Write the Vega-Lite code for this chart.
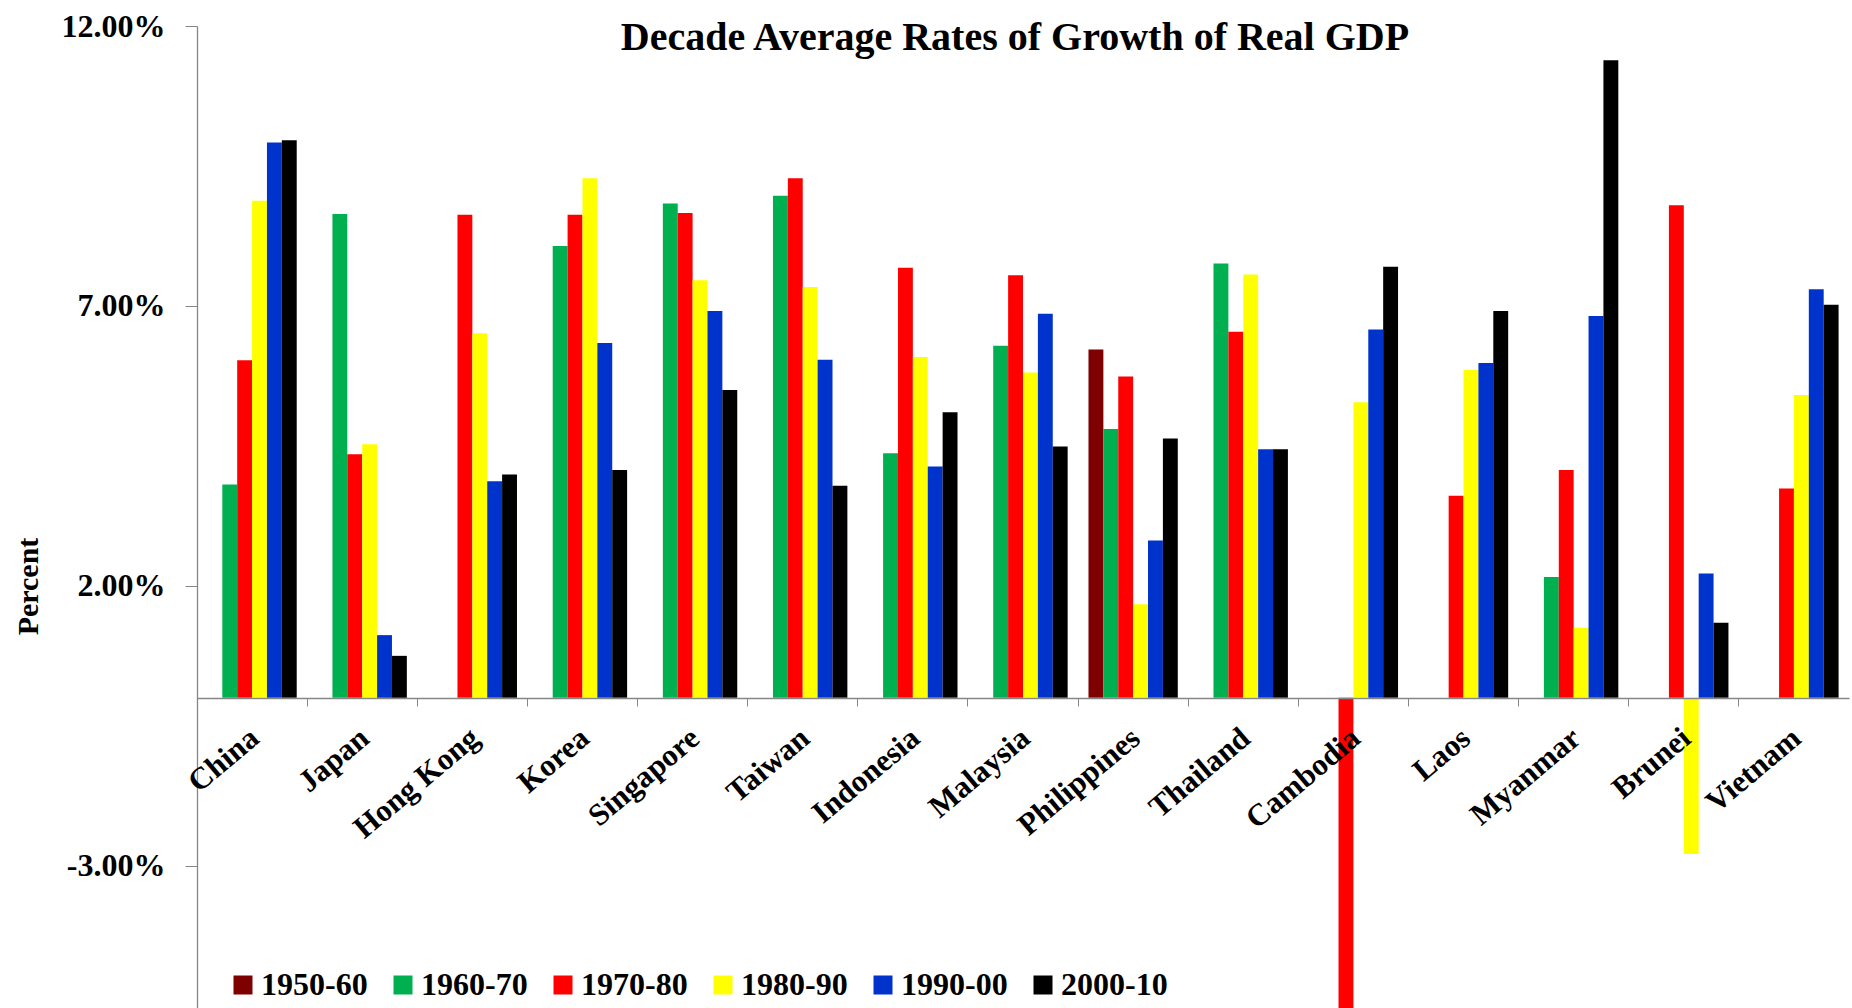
{
  "$schema": "https://vega.github.io/schema/vega-lite/v6.json",
  "autosize": {"type": "none"},
  "padding": {"left": 197, "top": 26, "right": 3, "bottom": 0},
  "width": 1652,
  "height": 982,
  "background": "white",
  "title": {
    "text": "Decade Average Rates of Growth of Real GDP",
    "font": "Liberation Serif",
    "fontSize": 40,
    "fontWeight": "bold",
    "color": "black",
    "anchor": "middle",
    "baseline": "alphabetic",
    "offset": -80,
    "dx": -8
  },
  "data": {
    "values": [
      {"c": "China", "d": "1960-70", "v": 3.81},
      {"c": "China", "d": "1970-80", "v": 6.03},
      {"c": "China", "d": "1980-90", "v": 8.88},
      {"c": "China", "d": "1990-00", "v": 9.92},
      {"c": "China", "d": "2000-10", "v": 9.96},
      {"c": "Japan", "d": "1960-70", "v": 8.64},
      {"c": "Japan", "d": "1970-80", "v": 4.35},
      {"c": "Japan", "d": "1980-90", "v": 4.53},
      {"c": "Japan", "d": "1990-00", "v": 1.12},
      {"c": "Japan", "d": "2000-10", "v": 0.75},
      {"c": "Hong Kong", "d": "1970-80", "v": 8.63},
      {"c": "Hong Kong", "d": "1980-90", "v": 6.51},
      {"c": "Hong Kong", "d": "1990-00", "v": 3.87},
      {"c": "Hong Kong", "d": "2000-10", "v": 3.99},
      {"c": "Korea", "d": "1960-70", "v": 8.07},
      {"c": "Korea", "d": "1970-80", "v": 8.63},
      {"c": "Korea", "d": "1980-90", "v": 9.28},
      {"c": "Korea", "d": "1990-00", "v": 6.34},
      {"c": "Korea", "d": "2000-10", "v": 4.07},
      {"c": "Singapore", "d": "1960-70", "v": 8.83},
      {"c": "Singapore", "d": "1970-80", "v": 8.66},
      {"c": "Singapore", "d": "1980-90", "v": 7.46},
      {"c": "Singapore", "d": "1990-00", "v": 6.91},
      {"c": "Singapore", "d": "2000-10", "v": 5.50},
      {"c": "Taiwan", "d": "1960-70", "v": 8.97},
      {"c": "Taiwan", "d": "1970-80", "v": 9.28},
      {"c": "Taiwan", "d": "1980-90", "v": 7.34},
      {"c": "Taiwan", "d": "1990-00", "v": 6.04},
      {"c": "Taiwan", "d": "2000-10", "v": 3.79},
      {"c": "Indonesia", "d": "1960-70", "v": 4.37},
      {"c": "Indonesia", "d": "1970-80", "v": 7.68},
      {"c": "Indonesia", "d": "1980-90", "v": 6.09},
      {"c": "Indonesia", "d": "1990-00", "v": 4.13},
      {"c": "Indonesia", "d": "2000-10", "v": 5.10},
      {"c": "Malaysia", "d": "1960-70", "v": 6.29},
      {"c": "Malaysia", "d": "1970-80", "v": 7.55},
      {"c": "Malaysia", "d": "1980-90", "v": 5.81},
      {"c": "Malaysia", "d": "1990-00", "v": 6.86},
      {"c": "Malaysia", "d": "2000-10", "v": 4.49},
      {"c": "Philippines", "d": "1950-60", "v": 6.22},
      {"c": "Philippines", "d": "1960-70", "v": 4.80},
      {"c": "Philippines", "d": "1970-80", "v": 5.74},
      {"c": "Philippines", "d": "1980-90", "v": 1.67},
      {"c": "Philippines", "d": "1990-00", "v": 2.81},
      {"c": "Philippines", "d": "2000-10", "v": 4.63},
      {"c": "Thailand", "d": "1960-70", "v": 7.76},
      {"c": "Thailand", "d": "1970-80", "v": 6.54},
      {"c": "Thailand", "d": "1980-90", "v": 7.56},
      {"c": "Thailand", "d": "1990-00", "v": 4.44},
      {"c": "Thailand", "d": "2000-10", "v": 4.44},
      {"c": "Cambodia", "d": "1970-80", "v": -9.0},
      {"c": "Cambodia", "d": "1980-90", "v": 5.28},
      {"c": "Cambodia", "d": "1990-00", "v": 6.58},
      {"c": "Cambodia", "d": "2000-10", "v": 7.70},
      {"c": "Laos", "d": "1970-80", "v": 3.61},
      {"c": "Laos", "d": "1980-90", "v": 5.86},
      {"c": "Laos", "d": "1990-00", "v": 5.98},
      {"c": "Laos", "d": "2000-10", "v": 6.91},
      {"c": "Myanmar", "d": "1960-70", "v": 2.16},
      {"c": "Myanmar", "d": "1970-80", "v": 4.07},
      {"c": "Myanmar", "d": "1980-90", "v": 1.25},
      {"c": "Myanmar", "d": "1990-00", "v": 6.82},
      {"c": "Myanmar", "d": "2000-10", "v": 11.39},
      {"c": "Brunei", "d": "1970-80", "v": 8.80},
      {"c": "Brunei", "d": "1980-90", "v": -2.79},
      {"c": "Brunei", "d": "1990-00", "v": 2.22},
      {"c": "Brunei", "d": "2000-10", "v": 1.34},
      {"c": "Vietnam", "d": "1970-80", "v": 3.74},
      {"c": "Vietnam", "d": "1980-90", "v": 5.41},
      {"c": "Vietnam", "d": "1990-00", "v": 7.30},
      {"c": "Vietnam", "d": "2000-10", "v": 7.02}
    ]
  },
  "mark": {"type": "bar", "clip": true},
  "encoding": {
    "x": {
      "field": "c",
      "type": "nominal",
      "sort": null,
      "scale": {"paddingInner": 0, "paddingOuter": 0},
      "axis": {
        "title": null,
        "zindex": 1,
        "offset": -310,
        "bandPosition": 0,
        "labelOffset": 3,
        "labelAngle": -40,
        "labelAlign": "right",
        "labelBaseline": "middle",
        "labelPadding": 28,
        "labelFont": "Liberation Serif",
        "labelFontSize": 31,
        "labelFontWeight": "bold",
        "labelColor": "black",
        "labelLimit": 400,
        "tickSize": 8,
        "tickColor": "#868686",
        "domainColor": "#868686",
        "domainWidth": 1.3,
        "grid": false
      }
    },
    "xOffset": {
      "field": "d",
      "type": "nominal",
      "scale": {
        "domain": ["1950-60", "1960-70", "1970-80", "1980-90", "1990-00", "2000-10"],
        "paddingInner": 0,
        "paddingOuter": 0.7
      }
    },
    "y": {
      "field": "v",
      "type": "quantitative",
      "scale": {"domain": [-5.54, 12], "nice": false, "zero": false},
      "axis": {
        "title": "Percent",
        "titleFont": "Liberation Serif",
        "titleFontSize": 30,
        "titleFontWeight": "bold",
        "titleColor": "black",
        "titleX": -169,
        "titleY": 560,
        "titleAngle": -90,
        "titleAlign": "center",
        "titleBaseline": "middle",
        "values": [12, 7, 2, -3],
        "labelExpr": "replace(format(datum.value, '.2f'), '\u2212', '-') + '%'",
        "labelFont": "Liberation Serif",
        "labelFontSize": 32,
        "labelFontWeight": "bold",
        "labelColor": "black",
        "labelPadding": 20,
        "tickSize": 12,
        "tickColor": "#868686",
        "domainColor": "#868686",
        "domainWidth": 1.3,
        "grid": false
      }
    },
    "color": {
      "field": "d",
      "type": "nominal",
      "scale": {
        "domain": ["1950-60", "1960-70", "1970-80", "1980-90", "1990-00", "2000-10"],
        "range": ["#7f0000", "#00b050", "#ff0000", "#ffff00", "#0033cc", "#000000"]
      },
      "legend": {
        "orient": "none",
        "legendX": 30,
        "legendY": 943,
        "direction": "horizontal",
        "columns": 6,
        "title": null,
        "padding": 0,
        "symbolType": "square",
        "symbolSize": 361,
        "symbolStrokeWidth": 0,
        "labelFont": "Liberation Serif",
        "labelFontSize": 32,
        "labelFontWeight": "bold",
        "labelColor": "black",
        "labelOffset": 2,
        "columnPadding": 19,
        "labelLimit": 300
      }
    }
  },
  "config": {
    "view": {"stroke": null}
  }
}
